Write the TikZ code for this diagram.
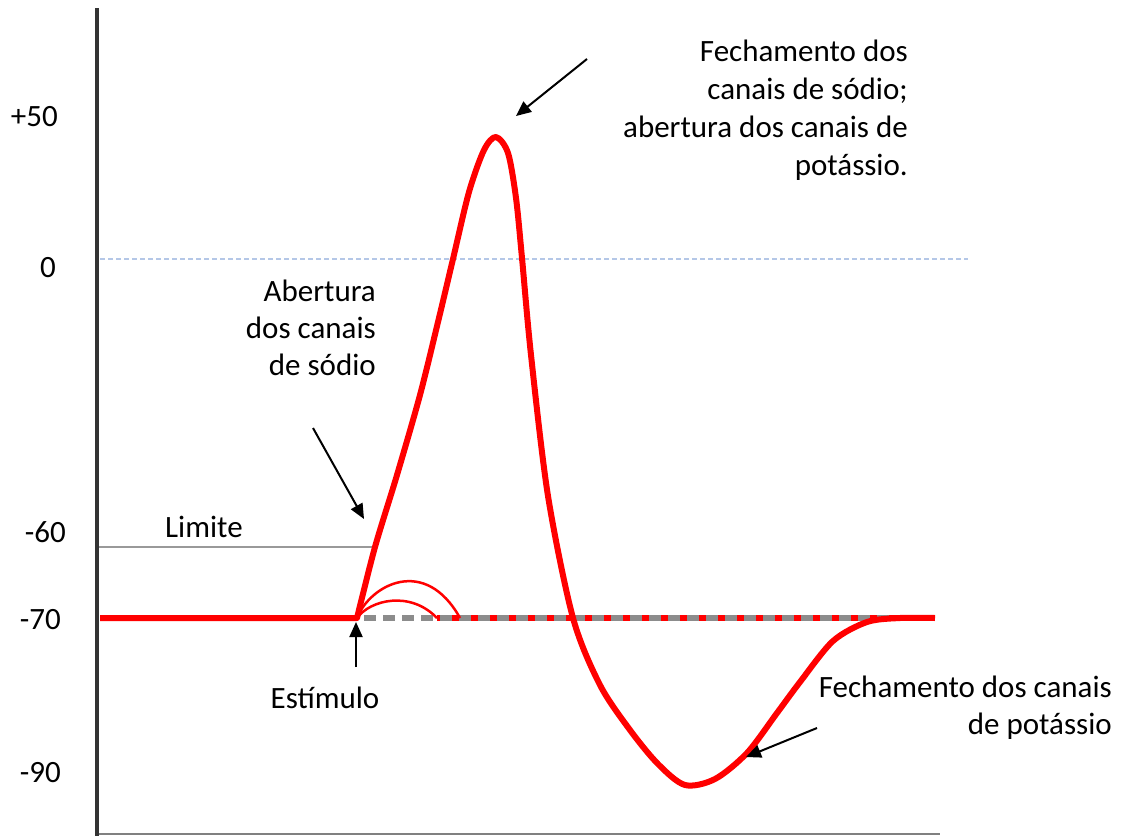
\documentclass[tikz,border=0pt]{standalone}
\usepackage{fontspec}
\setmainfont{Carlito}
\usetikzlibrary{arrows.meta}
\definecolor{zeroblue}{RGB}{180,199,231}
\definecolor{apred}{RGB}{255,0,0}
\begin{document}
\begin{tikzpicture}[x=1pt,y=-1pt,
  lbl/.style={font=\fontsize{31}{38}\selectfont, inner sep=0pt, text=black},
  arr/.style={line width=2pt, black, -{Triangle[length=15pt,width=13pt]}},
  apline/.style={apred, line width=6pt, line join=round},
  subline/.style={apred, line width=2.5pt},
  axisline/.style={line width=4pt, color=black!80},
]
\useasboundingbox[fill=white] (0,0) rectangle (1125,836);

% axes and reference lines
\draw[axisline] (97,8) -- (97,836);
\draw[color=black!50, line width=2pt] (99,834) -- (940,834);
\draw[zeroblue, line width=1.5pt, dash pattern=on 5pt off 3pt] (100,259) -- (968,259);
\draw[color=black!40, line width=2pt] (99,547) -- (375,547);

% resting level continuation
\draw[apred, line width=6pt] (437,618) -- (935,618);
\draw[color=black!45, line width=6pt, dash pattern=on 12pt off 7pt] (364,618) -- (935,618);

% sub-threshold responses
\draw[subline] (357,618) .. controls (370,585) and (425,555) .. (460,618);
\draw[subline] (357,618) .. controls (370,600) and (410,590) .. (437,618);

% action potential
\draw[apline] (100,618) -- (357,618) -- plot[smooth, tension=0.5] coordinates {
 (357,618) (375,547) (397,475) (420,395) (438,322) (453,259) (469,192) (484,150)
 (496,137) (508,153) (516,198) (522,258) (531,355) (548,496) (573,618) (600,685)
 (630,730) (658,764) (685,785) (715,779) (747,753) (777,713) (800,682) (833,641)
 (867,622) (900,618) (935,618)};

% axis labels
\node[lbl, anchor=east] (p50) at (58,117) {+50};
\node[lbl, anchor=east] (z0) at (56,268) {0};
\node[lbl, anchor=east] (m60) at (66,532) {-60};
\node[lbl, anchor=east] (m70) at (61,620) {-70};
\node[lbl, anchor=east] (m90) at (61,773) {-90};

% annotations
\node[lbl, anchor=west] (lim) at (165,527) {Limite};
\node[lbl] (est) at (325,698) {Estímulo};
\node[lbl, align=right, anchor=north east] (topnote) at (908,40)
  {Fechamento dos\\canais de sódio;\\abertura dos canais de\\potássio.};
\node[lbl, align=right, anchor=north east, font=\fontsize{31}{37}\selectfont] (abert) at (376,280)
  {Abertura\\dos canais\\de sódio};
\node[lbl, align=right, anchor=north east, font=\fontsize{31}{37}\selectfont] (fechk) at (1112,676)
  {Fechamento dos canais\\de potássio};

% arrows
\coordinate (a1s) at (587,59);
\coordinate (a1e) at (516,116);
\coordinate (a2s) at (313,428);
\coordinate (a2e) at (364,519);
\coordinate (a3s) at (356,667);
\coordinate (a3e) at (356,622);
\coordinate (a4s) at (817,728);
\coordinate (a4e) at (746,757);
\draw[arr] (a1s) -- (a1e);
\draw[arr] (a2s) -- (a2e);
\draw[arr] (a3s) -- (a3e);
\draw[arr] (a4s) -- (a4e);
\end{tikzpicture}
\end{document}
